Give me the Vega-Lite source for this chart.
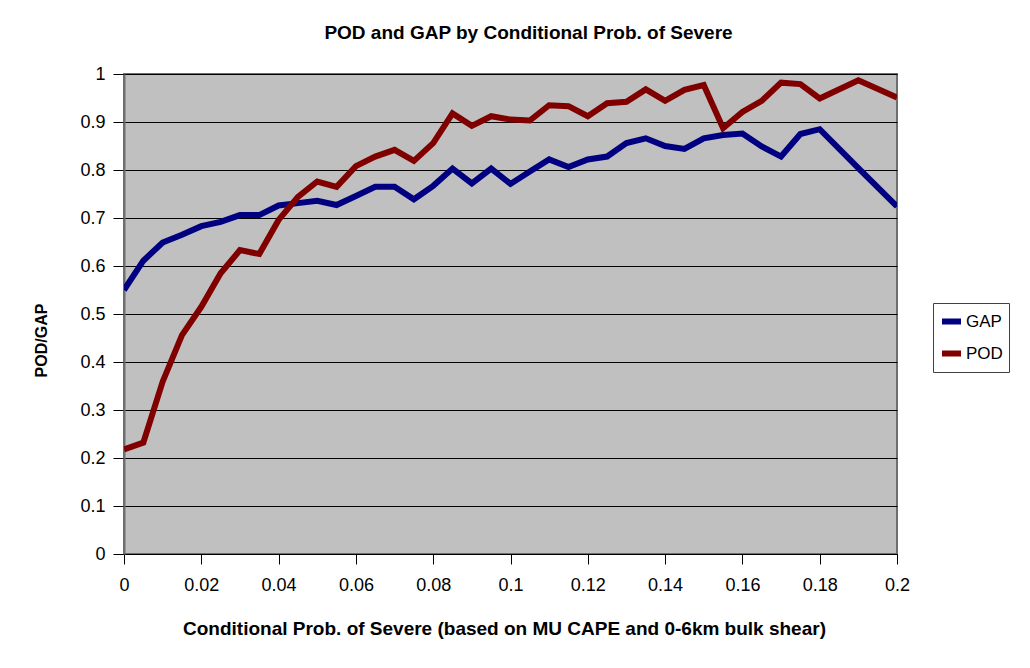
{
  "$schema": "https://vega.github.io/schema/vega-lite/v6.json",
  "autosize": "none",
  "width": 773,
  "height": 480,
  "padding": {"left": 124, "top": 74, "right": 133, "bottom": 114},
  "background": "white",
  "config": {
    "font": "Liberation Sans",
    "view": {"fill": "#C0C0C0", "stroke": "#6e6e6e", "strokeWidth": 2}
  },
  "title": {
    "text": "POD and GAP by Conditional Prob. of Severe",
    "fontSize": 19,
    "fontWeight": "bold",
    "font": "Liberation Sans",
    "color": "black",
    "offset": 22,
    "dx": 18
  },
  "data": {
    "values": [
      {"x": 0, "series": "GAP", "value": 0.55},
      {"x": 0.005, "series": "GAP", "value": 0.611},
      {"x": 0.01, "series": "GAP", "value": 0.649},
      {"x": 0.015, "series": "GAP", "value": 0.665},
      {"x": 0.02, "series": "GAP", "value": 0.683},
      {"x": 0.025, "series": "GAP", "value": 0.692},
      {"x": 0.03, "series": "GAP", "value": 0.706},
      {"x": 0.035, "series": "GAP", "value": 0.706},
      {"x": 0.04, "series": "GAP", "value": 0.726},
      {"x": 0.045, "series": "GAP", "value": 0.731},
      {"x": 0.05, "series": "GAP", "value": 0.736},
      {"x": 0.055, "series": "GAP", "value": 0.727},
      {"x": 0.06, "series": "GAP", "value": 0.746},
      {"x": 0.065, "series": "GAP", "value": 0.765},
      {"x": 0.07, "series": "GAP", "value": 0.765},
      {"x": 0.075, "series": "GAP", "value": 0.739},
      {"x": 0.08, "series": "GAP", "value": 0.767},
      {"x": 0.085, "series": "GAP", "value": 0.803},
      {"x": 0.09, "series": "GAP", "value": 0.772},
      {"x": 0.095, "series": "GAP", "value": 0.803},
      {"x": 0.1, "series": "GAP", "value": 0.771},
      {"x": 0.105, "series": "GAP", "value": 0.797},
      {"x": 0.11, "series": "GAP", "value": 0.822},
      {"x": 0.115, "series": "GAP", "value": 0.806},
      {"x": 0.12, "series": "GAP", "value": 0.822},
      {"x": 0.125, "series": "GAP", "value": 0.828},
      {"x": 0.13, "series": "GAP", "value": 0.856},
      {"x": 0.135, "series": "GAP", "value": 0.866},
      {"x": 0.14, "series": "GAP", "value": 0.85},
      {"x": 0.145, "series": "GAP", "value": 0.844},
      {"x": 0.15, "series": "GAP", "value": 0.866},
      {"x": 0.155, "series": "GAP", "value": 0.873},
      {"x": 0.16, "series": "GAP", "value": 0.876},
      {"x": 0.165, "series": "GAP", "value": 0.849},
      {"x": 0.17, "series": "GAP", "value": 0.828},
      {"x": 0.175, "series": "GAP", "value": 0.875},
      {"x": 0.18, "series": "GAP", "value": 0.885},
      {"x": 0.19, "series": "GAP", "value": 0.804},
      {"x": 0.2, "series": "GAP", "value": 0.724},
      {"x": 0, "series": "POD", "value": 0.218},
      {"x": 0.005, "series": "POD", "value": 0.232},
      {"x": 0.01, "series": "POD", "value": 0.359},
      {"x": 0.015, "series": "POD", "value": 0.456},
      {"x": 0.02, "series": "POD", "value": 0.515},
      {"x": 0.025, "series": "POD", "value": 0.585},
      {"x": 0.03, "series": "POD", "value": 0.633},
      {"x": 0.035, "series": "POD", "value": 0.625},
      {"x": 0.04, "series": "POD", "value": 0.696},
      {"x": 0.045, "series": "POD", "value": 0.744},
      {"x": 0.05, "series": "POD", "value": 0.776},
      {"x": 0.055, "series": "POD", "value": 0.765},
      {"x": 0.06, "series": "POD", "value": 0.808},
      {"x": 0.065, "series": "POD", "value": 0.828},
      {"x": 0.07, "series": "POD", "value": 0.842},
      {"x": 0.075, "series": "POD", "value": 0.819},
      {"x": 0.08, "series": "POD", "value": 0.856},
      {"x": 0.085, "series": "POD", "value": 0.918},
      {"x": 0.09, "series": "POD", "value": 0.892},
      {"x": 0.095, "series": "POD", "value": 0.912},
      {"x": 0.1, "series": "POD", "value": 0.905},
      {"x": 0.105, "series": "POD", "value": 0.903},
      {"x": 0.11, "series": "POD", "value": 0.935},
      {"x": 0.115, "series": "POD", "value": 0.933},
      {"x": 0.12, "series": "POD", "value": 0.912},
      {"x": 0.125, "series": "POD", "value": 0.939},
      {"x": 0.13, "series": "POD", "value": 0.942},
      {"x": 0.135, "series": "POD", "value": 0.968},
      {"x": 0.14, "series": "POD", "value": 0.944},
      {"x": 0.145, "series": "POD", "value": 0.967},
      {"x": 0.15, "series": "POD", "value": 0.977},
      {"x": 0.155, "series": "POD", "value": 0.887},
      {"x": 0.16, "series": "POD", "value": 0.921},
      {"x": 0.165, "series": "POD", "value": 0.944},
      {"x": 0.17, "series": "POD", "value": 0.982},
      {"x": 0.175, "series": "POD", "value": 0.979},
      {"x": 0.18, "series": "POD", "value": 0.949},
      {"x": 0.19, "series": "POD", "value": 0.987},
      {"x": 0.2, "series": "POD", "value": 0.951}
    ]
  },
  "mark": {"type": "line", "strokeWidth": 6, "strokeJoin": "miter", "strokeCap": "butt", "clip": true},
  "encoding": {
    "x": {
      "field": "x",
      "type": "quantitative",
      "scale": {"domain": [0, 0.2], "nice": false, "zero": false},
      "axis": {
        "values": [0, 0.02, 0.04, 0.06, 0.08, 0.1, 0.12, 0.14, 0.16, 0.18, 0.2],
        "format": "~g",
        "grid": false,
        "domainColor": "black",
        "domainWidth": 1,
        "tickColor": "black",
        "tickSize": 10,
        "tickWidth": 1,
        "labelFontSize": 18,
        "labelColor": "black",
        "labelPadding": 12,
        "labelFlush": false,
        "title": "Conditional Prob. of Severe (based on MU CAPE and 0-6km bulk shear)",
        "titleFontSize": 19,
        "titleFontWeight": "bold",
        "titleColor": "black",
        "titlePadding": 25,
        "titleX": 380
      }
    },
    "y": {
      "field": "value",
      "type": "quantitative",
      "scale": {"domain": [0, 1], "nice": false},
      "axis": {
        "values": [0, 0.1, 0.2, 0.3, 0.4, 0.5, 0.6, 0.7, 0.8, 0.9, 1],
        "format": "~g",
        "grid": true,
        "gridColor": "black",
        "gridWidth": 1.2,
        "gridOpacity": 1,
        "domainColor": "#6e6e6e",
        "domainWidth": 2,
        "tickColor": "black",
        "tickSize": 11,
        "tickWidth": 1,
        "labelFontSize": 18,
        "labelColor": "black",
        "labelPadding": 8,
        "labelFlush": false,
        "title": "POD/GAP",
        "titleFontSize": 16,
        "titleFontWeight": "bold",
        "titleColor": "black",
        "titlePadding": 30,
        "titleY": 266
      }
    },
    "color": {
      "field": "series",
      "type": "nominal",
      "scale": {"domain": ["GAP", "POD"], "range": ["#000080", "#800000"]},
      "legend": {
        "title": null,
        "orient": "none",
        "legendX": 809,
        "legendY": 229,
        "symbolType": "stroke",
        "symbolStrokeWidth": 6,
        "symbolSize": 361,
        "labelFontSize": 17,
        "labelColor": "black",
        "labelOffset": 2,
        "rowPadding": 7,
        "padding": 6,
        "strokeColor": "#404040",
        "fillColor": "white"
      }
    }
  }
}
